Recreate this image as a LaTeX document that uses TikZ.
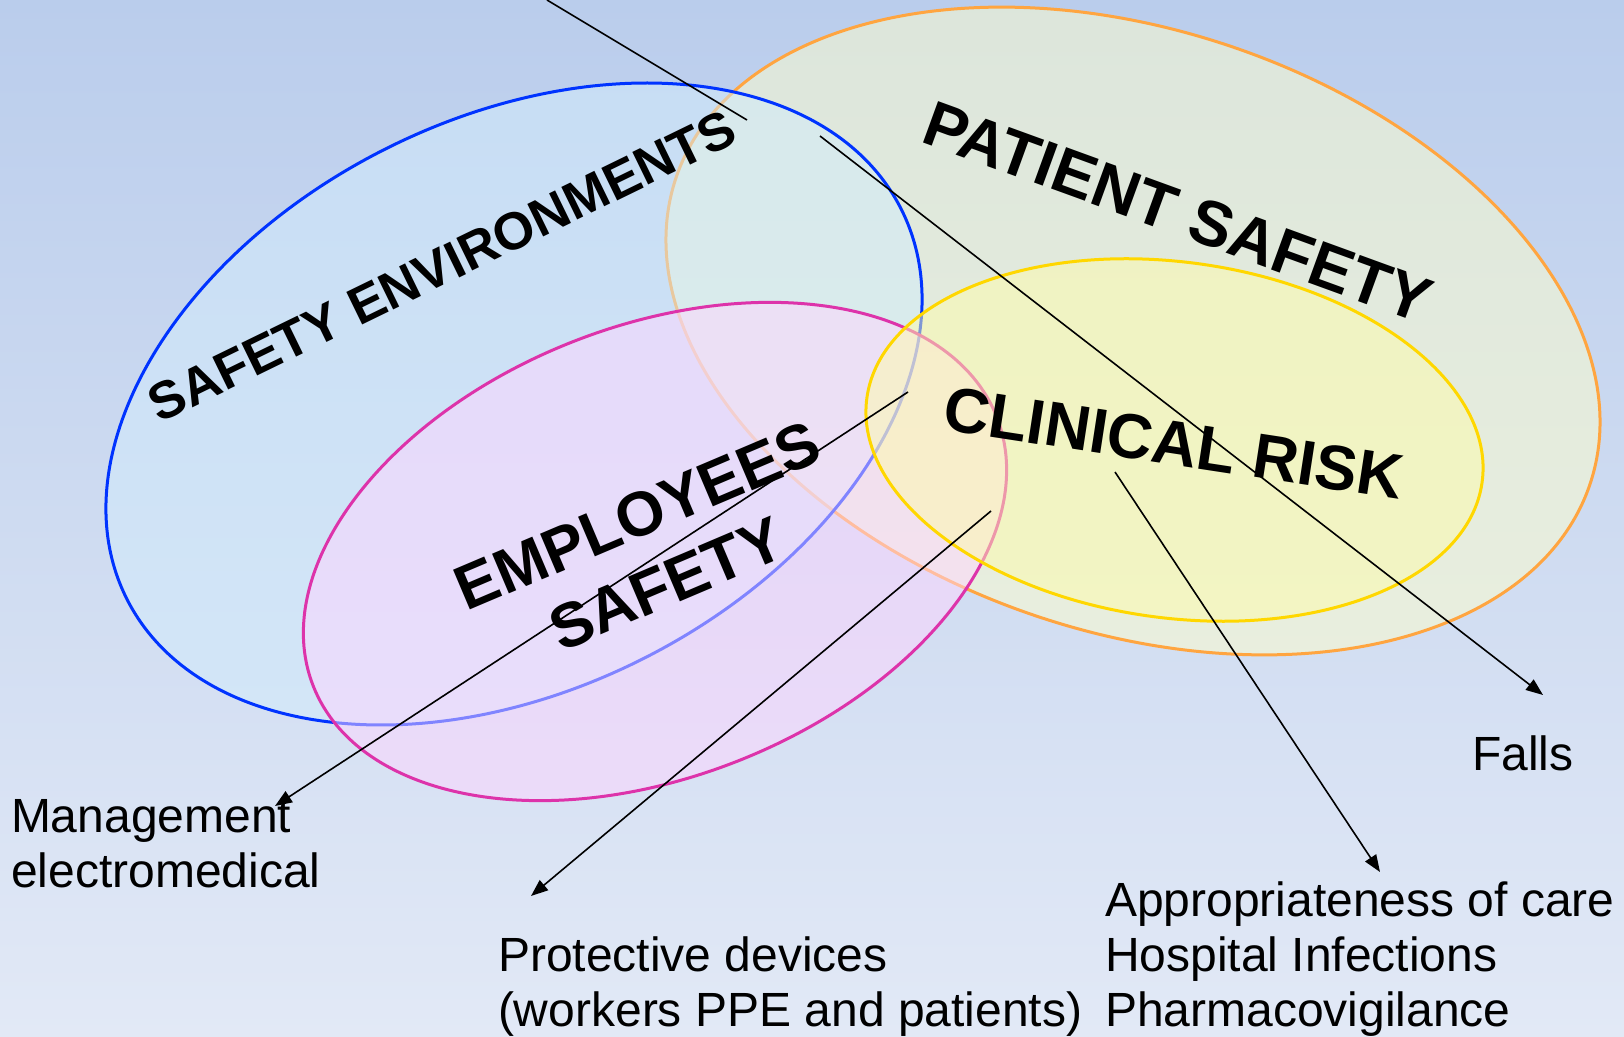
\documentclass[tikz,border=0pt]{standalone}
\usepackage{fontspec}
\setmainfont{Liberation Sans}
\usetikzlibrary{shapes.geometric,arrows.meta}
\definecolor{bgtop}{RGB}{186,205,236}
\definecolor{bgbot}{RGB}{226,233,246}
\definecolor{blueline}{RGB}{0,51,255}
\definecolor{bluefill}{RGB}{210,236,252}
\definecolor{orangeline}{RGB}{255,165,64}
\definecolor{orangefill}{RGB}{255,255,204}
\definecolor{pinkline}{RGB}{221,51,170}
\definecolor{pinkfill}{RGB}{255,214,255}
\definecolor{yellowline}{RGB}{255,215,0}
\definecolor{yellowfill}{RGB}{254,252,170}
\begin{document}
\begin{tikzpicture}[x=0.5pt,y=-0.5pt,
  setbox/.style={ellipse, inner sep=0pt, outer sep=0pt, line width=1.5pt, fill opacity=0.5},
  bigtext/.style={inner sep=0pt, outer sep=0pt, text=black, align=center},
  smalltext/.style={inner sep=0pt, outer sep=0pt, text=black, align=left, font=\fontsize{24}{27.5}\selectfont},
  conn/.style={line width=0.8pt, draw=black},
  tip/.style={-{Triangle[length=8.5pt,width=6.5pt]}}
]
\useasboundingbox (0,0) rectangle (1624,1037);
\shade[top color=bgtop, bottom color=bgbot] (0,0) rectangle (1624,1037);

% sets
\node[setbox, draw=orangeline, fill=orangefill, minimum width=482pt, minimum height=301pt, rotate=-18.5] (patient) at (1133,331) {};
\node[setbox, draw=blueline, fill=bluefill, minimum width=433.5pt, minimum height=285.6pt, rotate=26.7] (environments) at (514,404) {};
\node[setbox, draw=pinkline, fill=pinkfill, minimum width=367.3pt, minimum height=225.3pt, rotate=21.5] (employees) at (655,551.5) {};
\node[setbox, draw=yellowline, fill=yellowfill, minimum width=310.5pt, minimum height=177.9pt, rotate=-7.8] (clinical) at (1174.5,440) {};

% set labels
\node[bigtext, font=\bfseries\fontsize{26.3}{26.3}\selectfont, rotate=26] (envlabel) at (442,266) {SAFETY ENVIRONMENTS};
\node[bigtext, font=\bfseries\fontsize{32}{32}\selectfont, rotate=-20] (patlabel) at (1178,212) {PATIENT SAFETY};
\node[bigtext, font=\bfseries\fontsize{31.6}{31.6}\selectfont, rotate=-8.7] (clilabel) at (1174,443) {CLINICAL RISK};
\node[bigtext, font=\bfseries\fontsize{31.3}{37}\selectfont, rotate=23] (emplabel) at (652,550) {EMPLOYEES\\SAFETY};

% outcome labels
\node[smalltext, anchor=base west] (falls) at (1472,770) {Falls};
\node[smalltext, anchor=north west] (mgmt) at (11,799.6) {Management\\electromedical};
\node[smalltext, anchor=north west] (prot) at (498,936.6) {Protective devices\\(workers PPE and patients)};
\node[smalltext, anchor=north west] (appr) at (1105,881.6) {Appropriateness of care\\Hospital Infections\\Pharmacovigilance};

% connectors
\coordinate (topA) at (547,0);
\coordinate (topB) at (747,120);
\coordinate (fallsS) at (820,136);
\coordinate (fallsT) at (1543,695);
\coordinate (crS) at (1115,472);
\coordinate (crT) at (1380,872);
\coordinate (mgS) at (908,392);
\coordinate (mgT) at (275,806);
\coordinate (pdS) at (991,511);
\coordinate (pdT) at (531,896);
\draw[conn] (topA) -- (topB);
\draw[conn, tip] (fallsS) -- (fallsT);
\draw[conn, tip] (crS) -- (crT);
\draw[conn, tip] (mgS) -- (mgT);
\draw[conn, tip] (pdS) -- (pdT);
\end{tikzpicture}
\end{document}
